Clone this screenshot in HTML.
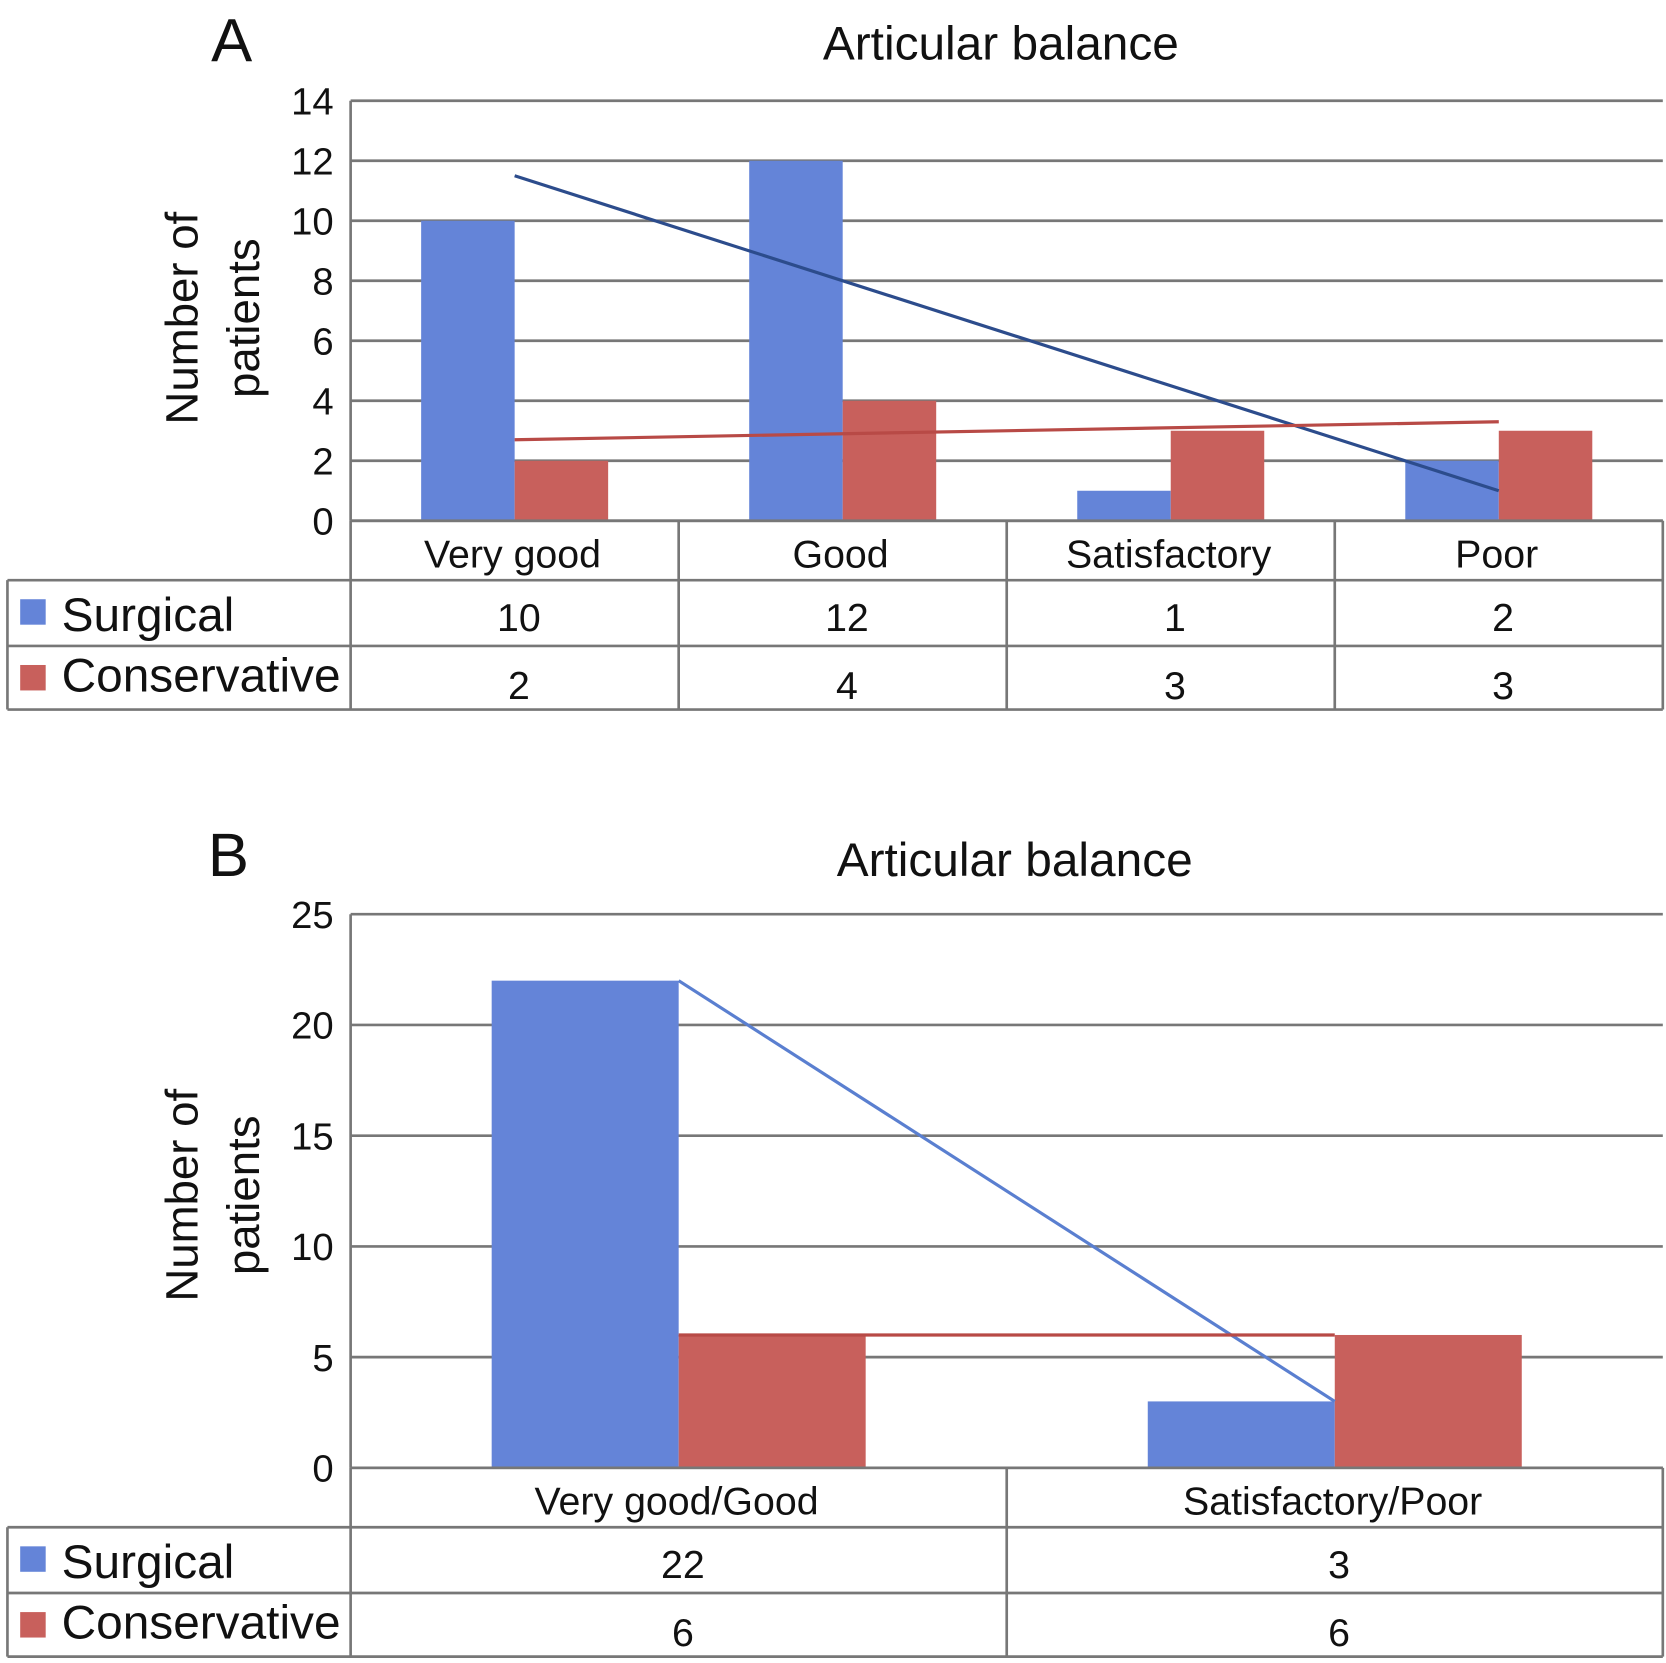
<!DOCTYPE html>
<html><head><meta charset="utf-8"><style>
html,body{margin:0;padding:0;background:#fff}
svg{display:block;font-family:"Liberation Sans",sans-serif}
</style></head><body>
<svg id="fig" width="1666" height="1663" viewBox="0 0 1568 1568" preserveAspectRatio="none" xmlns="http://www.w3.org/2000/svg"></svg>
<script>
const catsA=["Very good","Good","Satisfactory","Poor"];
const surgA=[10,12,1,2];
const consA=[2,4,3,3];
const ticksA=[0,2,4,6,8,10,12,14];
const catsB=["Very good/Good","Satisfactory/Poor"];
const surgB=[22,3];
const consB=[6,6];
const ticksB=[0,5,10,15,20,25];
const NS="http://www.w3.org/2000/svg";
const svg=document.getElementById('fig');
function mk(t,a,p){const e=document.createElementNS(NS,t);for(const k in a)e.setAttribute(k,a[k]);(p||svg).appendChild(e);return e;}
function txt(s,x,y,size,anchor,p){const e=mk('text',{x:x,y:y,'font-size':size,'text-anchor':anchor||'middle',fill:'#111'},p);e.textContent=s;return e;}
function trend(v){const n=v.length;const mx=(n+1)/2;const my=v.reduce((a,b)=>a+b,0)/n;let num=0,den=0;v.forEach((y,i)=>{num+=(i+1-mx)*(y-my);den+=(i+1-mx)*(i+1-mx);});const s=num/den;return [my+s*(1-mx),my+s*(n-mx)];}
function panel(o){
  const g=mk('g',{});
  
  
  const L=330,R=1565,y0=o.y0,yt=o.yt,max=o.ticks[o.ticks.length-1];
  const Y=v=>y0-(y0-yt)*v/max;
  const cw=(R-L)/o.cats.length;
  const X=i=>L+cw*(i+0.5);
  const lt=txt(o.letter,o.lx,o.ly,58,'middle',g);
  const t=txt('Articular balance',o.tx,o.ty,45,'middle',g);
  o.ticks.forEach(v=>{
    const l=mk('line',{x1:L,x2:R,y1:Y(v),y2:Y(v),stroke:'#777','stroke-width':2.5},g);
    
    const tl=txt(String(v),314,Y(v)+13,36,'end',g);
    
  });
  mk('line',{x1:L,x2:L,y1:yt,y2:y0,stroke:'#777','stroke-width':2.5},g);
  const yl=mk('g',{transform:`translate(200,${o.ylc}) rotate(-90)`},g);
  
  txt('Number of',0,-14,43,'middle',yl);txt('patients',0,44,43,'middle',yl);
  const bw=o.bw;
  o.cats.forEach((c,i)=>{
    const b1=mk('rect',{x:X(i)-bw,y:Y(o.s[i]),width:bw,height:y0-Y(o.s[i]),fill:'#6484d8'},g);
    
    const b2=mk('rect',{x:X(i),y:Y(o.c[i]),width:bw,height:y0-Y(o.c[i]),fill:'#c8605c'},g);
    
  });
  const n=o.cats.length;
  const ts=trend(o.s),tc=trend(o.c);
  const l1=mk('line',{x1:X(0),y1:Y(ts[0]),x2:X(n-1),y2:Y(ts[1]),stroke:o.tcol,'stroke-width':3},g);
  
  const l2=mk('line',{x1:X(0),y1:Y(tc[0]),x2:X(n-1),y2:Y(tc[1]),stroke:'#b84a46','stroke-width':3},g);
  
  const r0=y0,r1=r0+56,r2=r1+62,r3=r2+60;
  const st={stroke:'#777','stroke-width':2.5};
  [[L,r0,R,r0],[7,r1,R,r1],[7,r2,R,r2],[7,r3,R,r3],[7,r1,7,r3],[L,r0,L,r3],[R,r0,R,r3]].forEach(a=>mk('line',Object.assign({x1:a[0],y1:a[1],x2:a[2],y2:a[3]},st),g));
  for(let i=1;i<n;i++)mk('line',Object.assign({x1:L+cw*i,y1:r0,x2:L+cw*i,y2:r3},st),g);
  o.cats.forEach((c,i)=>{
    const h=txt(c,X(i)-2,r0+44,37,'middle',g);
    const a=txt(String(o.s[i]),X(i)+4,r1+48,37,'middle',g);
    const b=txt(String(o.c[i]),X(i)+4,r2+50,37,'middle',g);
  });
  const k1=mk('rect',{x:19,y:r1+18,width:24,height:24,fill:'#6484d8'},g);
  const k2=mk('rect',{x:19,y:r2+18,width:24,height:24,fill:'#c8605c'},g);
  const e1=txt('Surgical',58,r1+48,45,'start',g);
  const e2=txt('Conservative',58,r2+43,45,'start',g);
}
panel({name:'panel-a',letter:'A',lx:218,ly:58,tx:942,ty:56,y0:491,yt:95,ticks:ticksA,cats:catsA,s:surgA,c:consA,bw:88,ylc:300,tcol:'#2c4c8c'});
panel({name:'panel-b',letter:'B',lx:215,ly:826,tx:955,ty:826,y0:1384,yt:862,ticks:ticksB,cats:catsB,s:surgB,c:consB,bw:176,ylc:1127,tcol:'#5a7fd0'});
</script>
</body></html>
